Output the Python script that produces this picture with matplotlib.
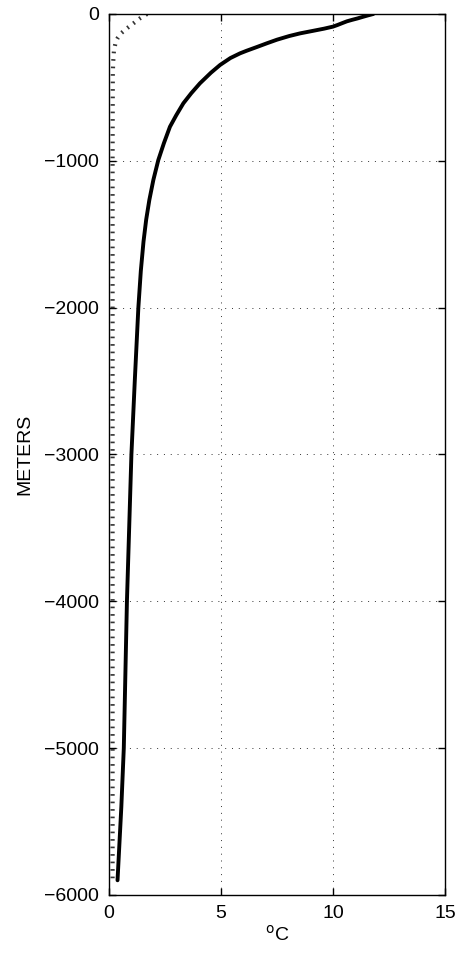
import numpy
from matplotlib import pyplot

pyplot.rcParams['font.family'] = ['Liberation Sans', 'DejaVu Sans']

# main temperature profile (depth in m, temperature in deg C)
depth_main = [0, -10, -20, -30, -40, -50, -60, -75, -86, -100, -115, -132,
              -150, -175, -200, -225, -250, -268, -300, -347, -400, -472,
              -540, -608, -690, -768, -880, -995, -1130, -1267, -1400, -1550,
              -1750, -2000, -2500, -3000, -3500, -4000, -4500, -5000, -5400,
              -5900]
temp_main = [11.8, 11.55, 11.32, 11.1, 10.85, 10.62, 10.45, 10.2, 10.0, 9.6, 9.1, 8.53,
             8.05, 7.5, 7.04, 6.6, 6.15, 5.85, 5.42, 4.96, 4.55, 4.06,
             3.67, 3.32, 3.0, 2.72, 2.45, 2.2, 1.98, 1.8, 1.66, 1.54,
             1.42, 1.31, 1.15, 1.0, 0.9, 0.8, 0.73, 0.66, 0.55,
             0.38]

# second (dotted) profile
depth_dot = [0, -30, -65, -100, -130, -160, -190, -250, -320, -400, -1000, -3000, -5900]
temp_dot = [1.7, 1.38, 1.08, 0.78, 0.55, 0.4, 0.3, 0.22, 0.19, 0.17, 0.16, 0.16, 0.16]

x_ticks = [0, 5, 10, 15]
y_ticks = [0, -1000, -2000, -3000, -4000, -5000, -6000]

figure = pyplot.figure(figsize=(4.59, 9.58), dpi=100)
axes = figure.add_axes([0.2375, 0.0658, 0.732, 0.9196])

axes.plot(temp_dot, depth_dot, color='0.2', linewidth=3,
          linestyle=(0, (0.4, 1.4)), dash_capstyle='butt')
axes.plot(temp_main, depth_main, color='black', linewidth=2.8,
          solid_capstyle='round', solid_joinstyle='round')

axes.set_xlim(0, 15)
axes.set_ylim(-6000, 0)
axes.set_xticks(x_ticks)
axes.set_yticks(y_ticks)
axes.grid(True, color='0.2', linestyle=(0, (1, 6)), linewidth=0.7)

axes.tick_params(direction='in', length=5, width=1, top=True, right=True,
                 labelsize=14, pad=7)
for spine in axes.spines.values():
    spine.set_linewidth(1)

axes.set_xlabel(r'$^{\rm o}$C', fontsize=14, labelpad=2)
axes.set_ylabel('METERS', fontsize=14, labelpad=8)

figure.savefig('out.png', dpi=100)
